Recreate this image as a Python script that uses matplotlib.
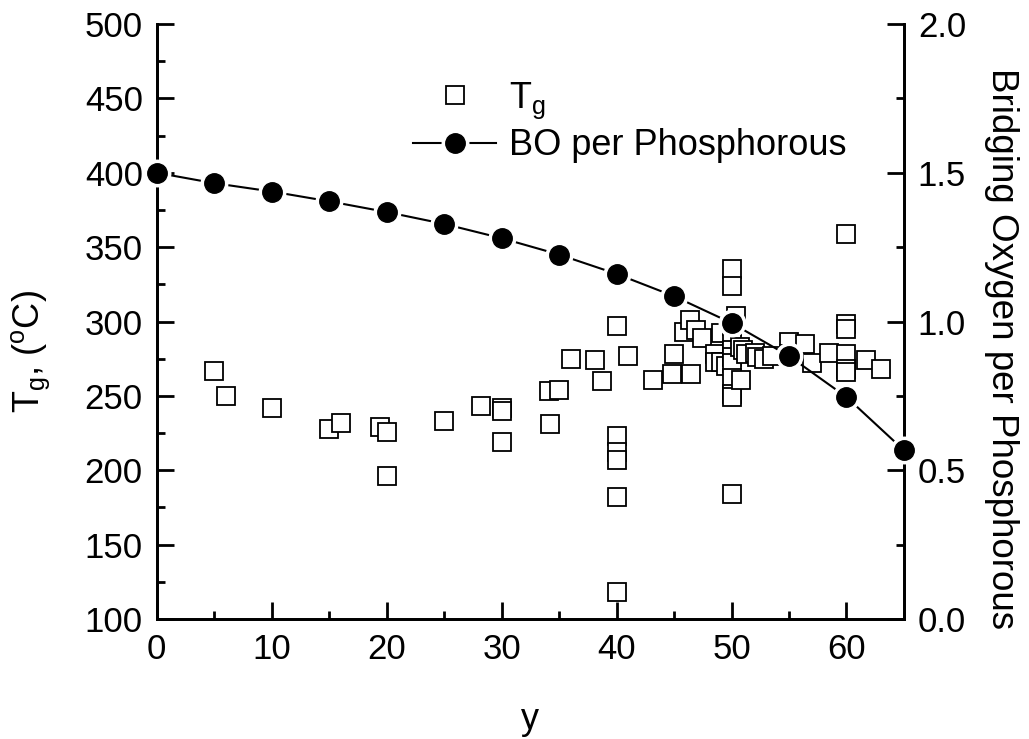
import numpy as np
import matplotlib
matplotlib.use("Agg")
import matplotlib.pyplot as plt
from matplotlib.legend_handler import HandlerTuple

plt.rcParams['font.family'] = ['Liberation Sans', 'DejaVu Sans']
plt.rcParams['mathtext.fontset'] = 'custom'
plt.rcParams['mathtext.rm'] = 'Liberation Sans'
plt.rcParams['mathtext.it'] = 'Liberation Sans'

# glass transition temperatures (y, Tg)
tg_y = [5, 6, 10, 15, 16, 19.4, 20, 20, 25, 28.2, 30, 30, 30, 34.1, 35, 34.2,
        36, 38.1, 38.7, 40, 40, 40, 40, 40, 40, 41, 43.2, 44.8, 45, 46.5,
        45.9, 46.4, 46.9, 47.4, 48.6, 48.6, 49.1, 49.1, 49.5,
        50, 50, 50, 50, 50, 50, 50, 50, 50, 50, 50,
        50.4, 50.7, 50.8, 51, 51.3, 52, 52.2, 52.8, 53.5, 55, 55, 56.4, 57,
        58.5, 60, 60, 60, 60, 60, 60, 61.7, 63]
tg_val = [267, 250, 242, 228, 232, 229, 226, 196, 233, 243, 242, 240, 219, 253, 254, 231,
          275, 274, 260, 297, 223, 212, 207, 182, 118, 277, 261, 265, 278, 265,
          293, 301, 294, 289, 278, 273, 292, 273, 270,
          335, 324, 297, 286, 281, 276, 272, 262, 251, 249, 184,
          304, 283, 261, 281, 278, 279, 276, 275, 277, 286, 278, 285, 272,
          279, 359, 298, 295, 278, 268, 266, 274, 268]

# bridging oxygen per phosphorous
bo_y = [0, 5, 10, 15, 20, 25, 30, 35, 40, 45, 50, 55, 60, 65]
bo_val = [1.50, 1.465, 1.437, 1.404, 1.368, 1.328, 1.280, 1.225, 1.160, 1.085,
          0.995, 0.884, 0.746, 0.567]

fig = plt.figure(figsize=(10.29, 7.39), dpi=100)
ax = fig.add_axes([0.1523, 0.1624, 0.7262, 0.8051])
ax2 = ax.twinx()

sq, = ax.plot(tg_y, tg_val, 's', ms=12.5, mfc='white', mec='black', mew=1.3,
              linestyle='none', zorder=2, clip_on=False)

ax2.set_zorder(ax.get_zorder() + 1)
ax2.patch.set_visible(False)
ln, = ax2.plot(bo_y, bo_val, '-', color='black', lw=1.5, marker='o', ms=17,
               mfc='white', mec='white', mew=3.1, zorder=3, clip_on=False)
dots, = ax2.plot(bo_y, bo_val, 'o', color='black', ms=14, zorder=4, clip_on=False)

ax.set_xlim(0, 65)
ax.set_ylim(100, 500)
ax2.set_ylim(0, 2.0)
ax.set_xticks(np.arange(0, 61, 10))
ax.set_xticks(np.arange(5, 66, 10), minor=True)
ax.set_yticks(np.arange(100, 501, 50))
ax.set_yticks(np.arange(125, 500, 50), minor=True)
ax2.set_yticks(np.arange(0, 2.01, 0.5))
ax2.set_yticks(np.arange(0.25, 2.0, 0.5), minor=True)
ax2.set_yticklabels(['0.0', '0.5', '1.0', '1.5', '2.0'])

for a in (ax, ax2):
    a.spines['top'].set_visible(False)
    for s in a.spines.values():
        s.set_linewidth(2)
    a.tick_params(which='both', direction='in', width=2, labelsize=25, pad=10)
    a.tick_params(which='major', length=12)
    a.tick_params(which='minor', length=6)

ax.set_xlabel('y', fontsize=26, labelpad=26)
ax.set_ylabel('T$_g$, ($^o$C)', fontsize=26, va='center')
ax.yaxis.set_label_coords(-0.168, 0.45)
ax2.set_ylabel('Bridging Oxygen per Phosphorous', fontsize=26.5, rotation=-90,
               va='center')
ax2.yaxis.set_label_coords(1.13, 0.455)

ax2.legend([sq, (ln, dots)], ['T$_g$', 'BO per Phosphorous'],
           handler_map={tuple: HandlerTuple(ndivide=1)},
           loc='upper left', bbox_to_anchor=(0.343, 0.905), frameon=False,
           fontsize=26, handlelength=2.3, handletextpad=0.35, borderpad=0,
           labelspacing=0.2, borderaxespad=0)

fig.savefig('out.png', dpi=100)
